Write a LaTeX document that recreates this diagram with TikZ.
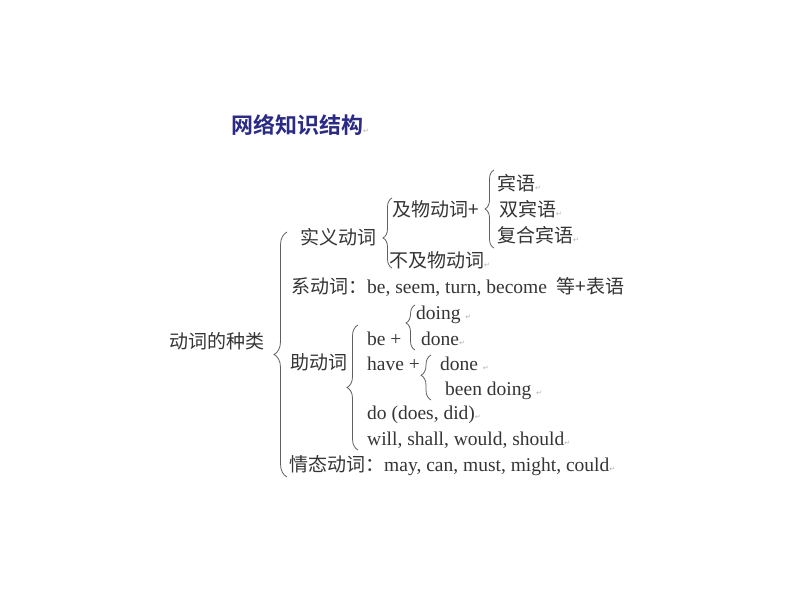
\documentclass[tikz,border=0pt]{standalone}
\usepackage{fontspec}
\setmainfont{Liberation Serif}
\newfontfamily\cjk{Noto Sans CJK SC}
\newfontfamily\cjkbf{Noto Sans CJK SC Bold}
\newfontfamily\symb{DejaVu Sans}
\usetikzlibrary{decorations.pathreplacing}
\definecolor{inkgray}{HTML}{353535}
\definecolor{titleblue}{HTML}{2B2B85}
\newcommand\ret{{\symb\fontsize{7}{7}\selectfont\textcolor{gray!60}{↵}}}
\newcommand\zhtext{\cjk\fontsize{19}{19}\selectfont}
\tikzset{
  word/.style={
    anchor=west,
    inner sep=0pt,
    yshift=-2pt,
    text=inkgray,
    text height=13pt,
    text depth=4pt,
    font=\fontsize{19.5}{19.5}\selectfont
  },
  zh/.style={
    word,
    font=\zhtext
  },
  heading/.style={
    anchor=west,
    inner sep=0pt,
    text=titleblue,
    font=\cjkbf\fontsize{22}{22}\selectfont
  },
  curly/.style={
    draw=gray!75!black,
    line width=0.8pt,
    decorate,
    decoration={brace, amplitude=#1}
  },
  curly/.default=10pt
}

\begin{document}
\begin{tikzpicture}[x=1pt, y=-1pt]
  \useasboundingbox[fill=white] (0,0) rectangle (800,600);
  \node[heading] (title) at (231,125) {网络知识结构\ret};
  % root
  \node[zh] (kind) at (169,342) {动词的种类};
  % notional verbs
  \node[zh] (shiyi) at (300,238) {实义动词};
  \node[zh] (jiwu) at (392,210) {及物动词+};
  \node[zh] (binyu) at (497,184) {宾语\ret};
  \node[zh] (shuang) at (499,210) {双宾语\ret};
  \node[zh] (fuhe) at (497,236) {复合宾语\ret};
  \node[zh] (bujiwu) at (389,261) {不及物动词\ret};
  % linking verbs
  \node[word] (xi) at (291,287) {{\zhtext 系动词：}be, seem, turn, become\ \ {\zhtext 等+表语}};
  % auxiliaries
  \node[zh] (zhu) at (290,363) {助动词};
  \node[word] (be) at (367,339) {be +};
  \node[word] (doing) at (416,313) {doing \ret};
  \node[word] (done1) at (421,339) {done\ret};
  \node[word] (have) at (367,364) {have +};
  \node[word] (done2) at (440,364) {done \ret};
  \node[word] (been) at (445,389) {been doing \ret};
  \node[word] (do) at (367,413) {do (does, did)\ret};
  \node[word] (will) at (367,439) {will, shall, would, should\ret};
  % modals
  \node[word] (qing) at (289,465) {{\zhtext 情态动词：}may, can, must, might, could\ret};

  % brace ends
  \coordinate (big-top) at (287,232);
  \coordinate (big-bot) at (287,477);
  \coordinate (shiyi-top) at (392,198);
  \coordinate (shiyi-bot) at (392,268);
  \coordinate (jiwu-top) at (494,170);
  \coordinate (jiwu-bot) at (494,248);
  \coordinate (be-top) at (415,305);
  \coordinate (be-bot) at (415,350);
  \coordinate (zhu-top) at (358,325);
  \coordinate (zhu-bot) at (358,450);
  \coordinate (have-top) at (431,355);
  \coordinate (have-bot) at (431,400);

  \draw[curly=13pt] (big-bot) -- (big-top);
  \draw[curly=9pt, decoration={aspect=0.43}] (shiyi-bot) -- (shiyi-top);
  \draw[curly=9pt] (jiwu-bot) -- (jiwu-top);
  \draw[curly=9pt, decoration={aspect=0.6}] (be-bot) -- (be-top);
  \draw[curly=11pt] (zhu-bot) -- (zhu-top);
  \draw[curly=10pt, decoration={aspect=0.55}] (have-bot) -- (have-top);
\end{tikzpicture}
\end{document}
